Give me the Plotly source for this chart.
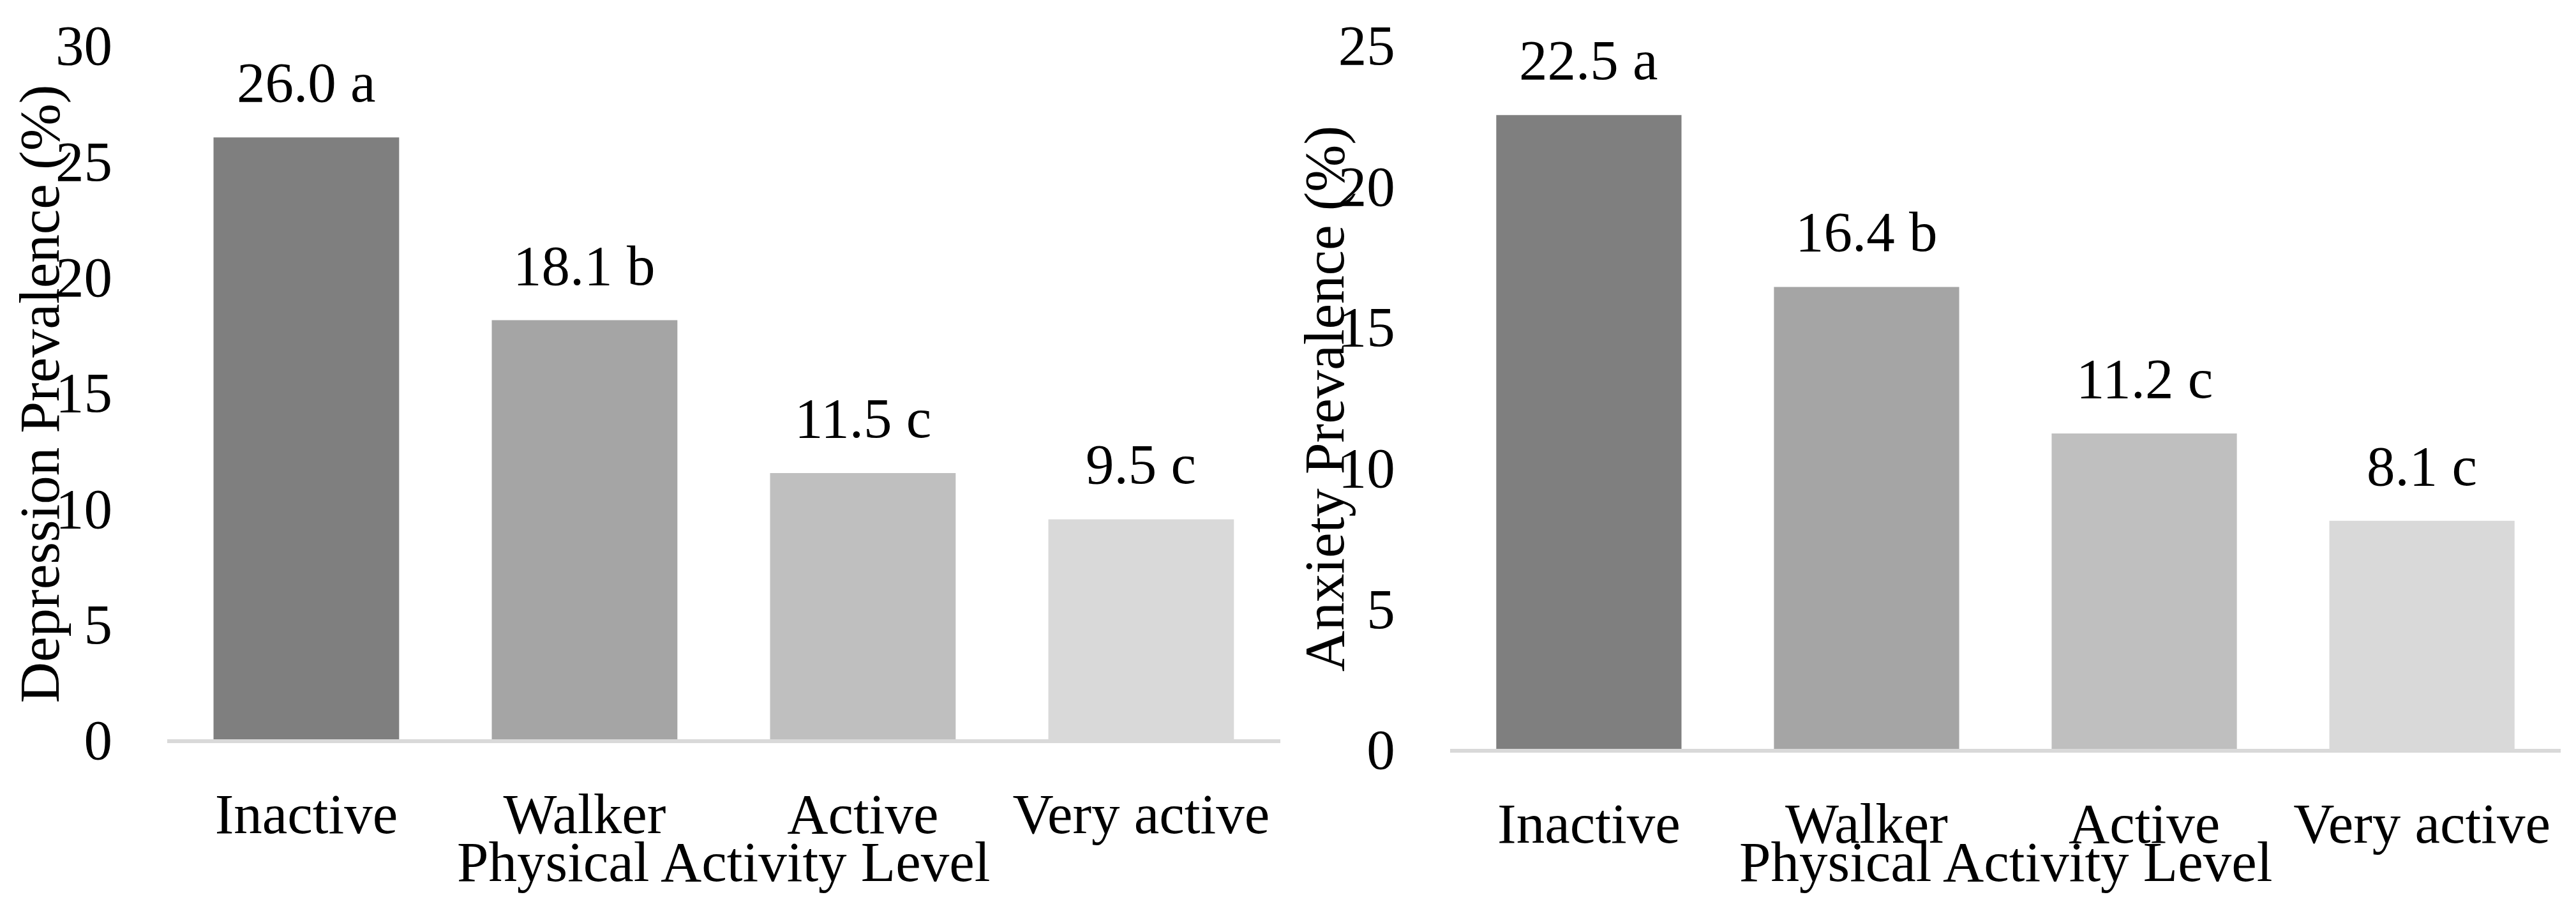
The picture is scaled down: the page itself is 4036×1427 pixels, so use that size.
import plotly.graph_objects as go

categories = ["Inactive", "Walker", "Active", "Very active"]
depression = [26.0, 18.1, 11.5, 9.5]
depression_letters = ["a", "b", "c", "c"]
anxiety = [22.5, 16.4, 11.2, 8.1]
anxiety_letters = ["a", "b", "c", "c"]
bar_colors = ["#7f7f7f", "#a5a5a5", "#bfbfbf", "#d9d9d9"]
dep_ticks = [0, 5, 10, 15, 20, 25, 30]
anx_ticks = [0, 5, 10, 15, 20, 25]

FONT = "Liberation Serif"
FS = 89

fig = go.Figure()
fig.add_trace(go.Bar(x=categories, y=depression, marker=dict(color=bar_colors, line=dict(width=0)),
                     xaxis="x", yaxis="y", showlegend=False, hoverinfo="skip"))
fig.add_trace(go.Bar(x=categories, y=anxiety, marker=dict(color=bar_colors, line=dict(width=0)),
                     xaxis="x2", yaxis="y2", showlegend=False, hoverinfo="skip"))

annotations = []
for c, v, l in zip(categories, depression, depression_letters):
    annotations.append(dict(x=c, y=v, xref="x", yref="y", text=f"{v:.1f} {l}", showarrow=False,
                            yanchor="bottom", yshift=35, font=dict(family=FONT, size=FS, color="black")))
for c, v, l in zip(categories, anxiety, anxiety_letters):
    annotations.append(dict(x=c, y=v, xref="x2", yref="y2", text=f"{v:.1f} {l}", showarrow=False,
                            yanchor="bottom", yshift=35, font=dict(family=FONT, size=FS, color="black")))

# axis titles
annotations.append(dict(x=0.5, xref="x domain", y=0.054, yref="paper", text="Physical Activity Level",
                        showarrow=False, xanchor="center", yanchor="middle",
                        font=dict(family=FONT, size=FS, color="black")))
annotations.append(dict(x=0.5, xref="x2 domain", y=0.054, yref="paper", text="Physical Activity Level",
                        showarrow=False, xanchor="center", yanchor="middle",
                        font=dict(family=FONT, size=FS, color="black")))
annotations.append(dict(x=0.0154, xref="paper", y=0.5676, yref="paper", text="Depression Prevalence (%)",
                        showarrow=False, textangle=-90, xanchor="center", yanchor="middle",
                        font=dict(family=FONT, size=FS, color="black")))
annotations.append(dict(x=0.5141, xref="paper", y=0.5627, yref="paper", text="Anxiety Prevalence (%)",
                        showarrow=False, textangle=-90, xanchor="center", yanchor="middle",
                        font=dict(family=FONT, size=FS, color="black")))

xcommon = dict(showline=True, linecolor="#d9d9d9", linewidth=6, ticks="", showgrid=False,
               zeroline=False, tickfont=dict(family=FONT, size=FS, color="black"),
               ticklabelstandoff=34, fixedrange=True, automargin=False)
ycommon = dict(showline=False, ticks="", showgrid=False, zeroline=False,
               tickfont=dict(family=FONT, size=FS, color="black"), ticklabelstandoff=85,
               fixedrange=True, automargin=False)

fig.update_layout(
    width=4036, height=1427,
    margin=dict(l=0, r=0, t=0, b=0, pad=0, autoexpand=False),
    paper_bgcolor="white", plot_bgcolor="white",
    bargap=0.333,
    xaxis=dict(domain=[0.0649, 0.4970], anchor="y", **xcommon),
    xaxis2=dict(domain=[0.5629, 0.9941], anchor="y2", **xcommon),
    yaxis=dict(domain=[0.1885, 0.9509], range=[0, 30], tickvals=dep_ticks, anchor="x", **ycommon),
    yaxis2=dict(domain=[0.1780, 0.9509], range=[0, 25], tickvals=anx_ticks, anchor="x2", **ycommon),
    annotations=annotations,
)

fig.write_html("out.html", config={"displayModeBar": False},
               post_script="document.body.style.margin='0';document.body.style.overflow='hidden';")
